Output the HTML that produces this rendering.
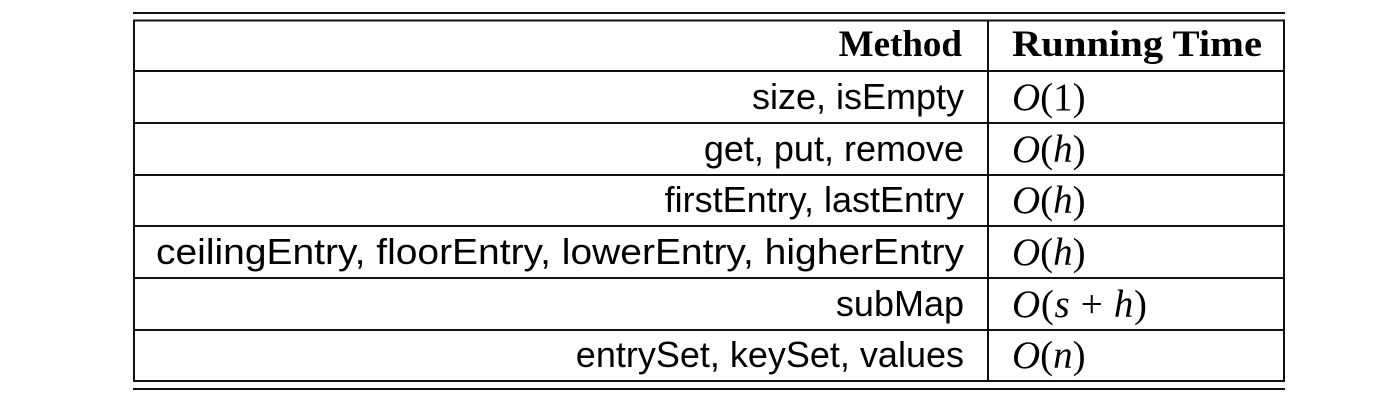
<!DOCTYPE html>
<html><head><meta charset="utf-8"><style>
html,body{margin:0;padding:0;background:#fff;}
svg{display:block;}
.m{font-family:"Liberation Sans",sans-serif;font-size:36px;fill:#000;}
.h{font-family:"Liberation Serif",serif;font-size:37px;font-weight:bold;fill:#000;}
.r{font-family:"Liberation Serif",serif;font-size:39px;fill:#000;}
</style></head><body>
<svg width="1384" height="402" viewBox="0 0 1384 402" xmlns="http://www.w3.org/2000/svg">
<g stroke="#111" stroke-width="2" fill="none">
<line x1="133" y1="13" x2="1285" y2="13"/>
<rect x="134" y="20.5" width="1150" height="360.5"/>
<line x1="988" y1="20" x2="988" y2="381"/>
<line x1="133" y1="71" x2="1285" y2="71"/>
<line x1="133" y1="123" x2="1285" y2="123"/>
<line x1="133" y1="175" x2="1285" y2="175"/>
<line x1="133" y1="226" x2="1285" y2="226"/>
<line x1="133" y1="278" x2="1285" y2="278"/>
<line x1="133" y1="330" x2="1285" y2="330"/>
<line x1="133" y1="389" x2="1285" y2="389"/>
</g>
<text class="h" x="962" y="56" text-anchor="end">Method</text>
<text class="h" x="1012" y="56" textLength="250" lengthAdjust="spacingAndGlyphs">Running Time</text>
<g class="m" text-anchor="end">
<text x="964" y="109">size, isEmpty</text>
<text x="964" y="161">get, put, remove</text>
<text x="964" y="212">firstEntry, lastEntry</text>
<text x="964" y="264" textLength="808" lengthAdjust="spacingAndGlyphs">ceilingEntry, floorEntry, lowerEntry, higherEntry</text>
<text x="964" y="316">subMap</text>
<text x="964" y="367">entrySet, keySet, values</text>
</g>
<g class="r">
<text x="1012" y="110"><tspan font-style="italic">O</tspan>(1)</text>
<text x="1012" y="162"><tspan font-style="italic">O</tspan>(<tspan font-style="italic">h</tspan>)</text>
<text x="1012" y="213"><tspan font-style="italic">O</tspan>(<tspan font-style="italic">h</tspan>)</text>
<text x="1012" y="265"><tspan font-style="italic">O</tspan>(<tspan font-style="italic">h</tspan>)</text>
<text x="1012" y="317" textLength="135" lengthAdjust="spacing"><tspan font-style="italic">O</tspan>(<tspan font-style="italic">s</tspan> + <tspan font-style="italic">h</tspan>)</text>
<text x="1012" y="368"><tspan font-style="italic">O</tspan>(<tspan font-style="italic">n</tspan>)</text>
</g>
</svg>
</body></html>
